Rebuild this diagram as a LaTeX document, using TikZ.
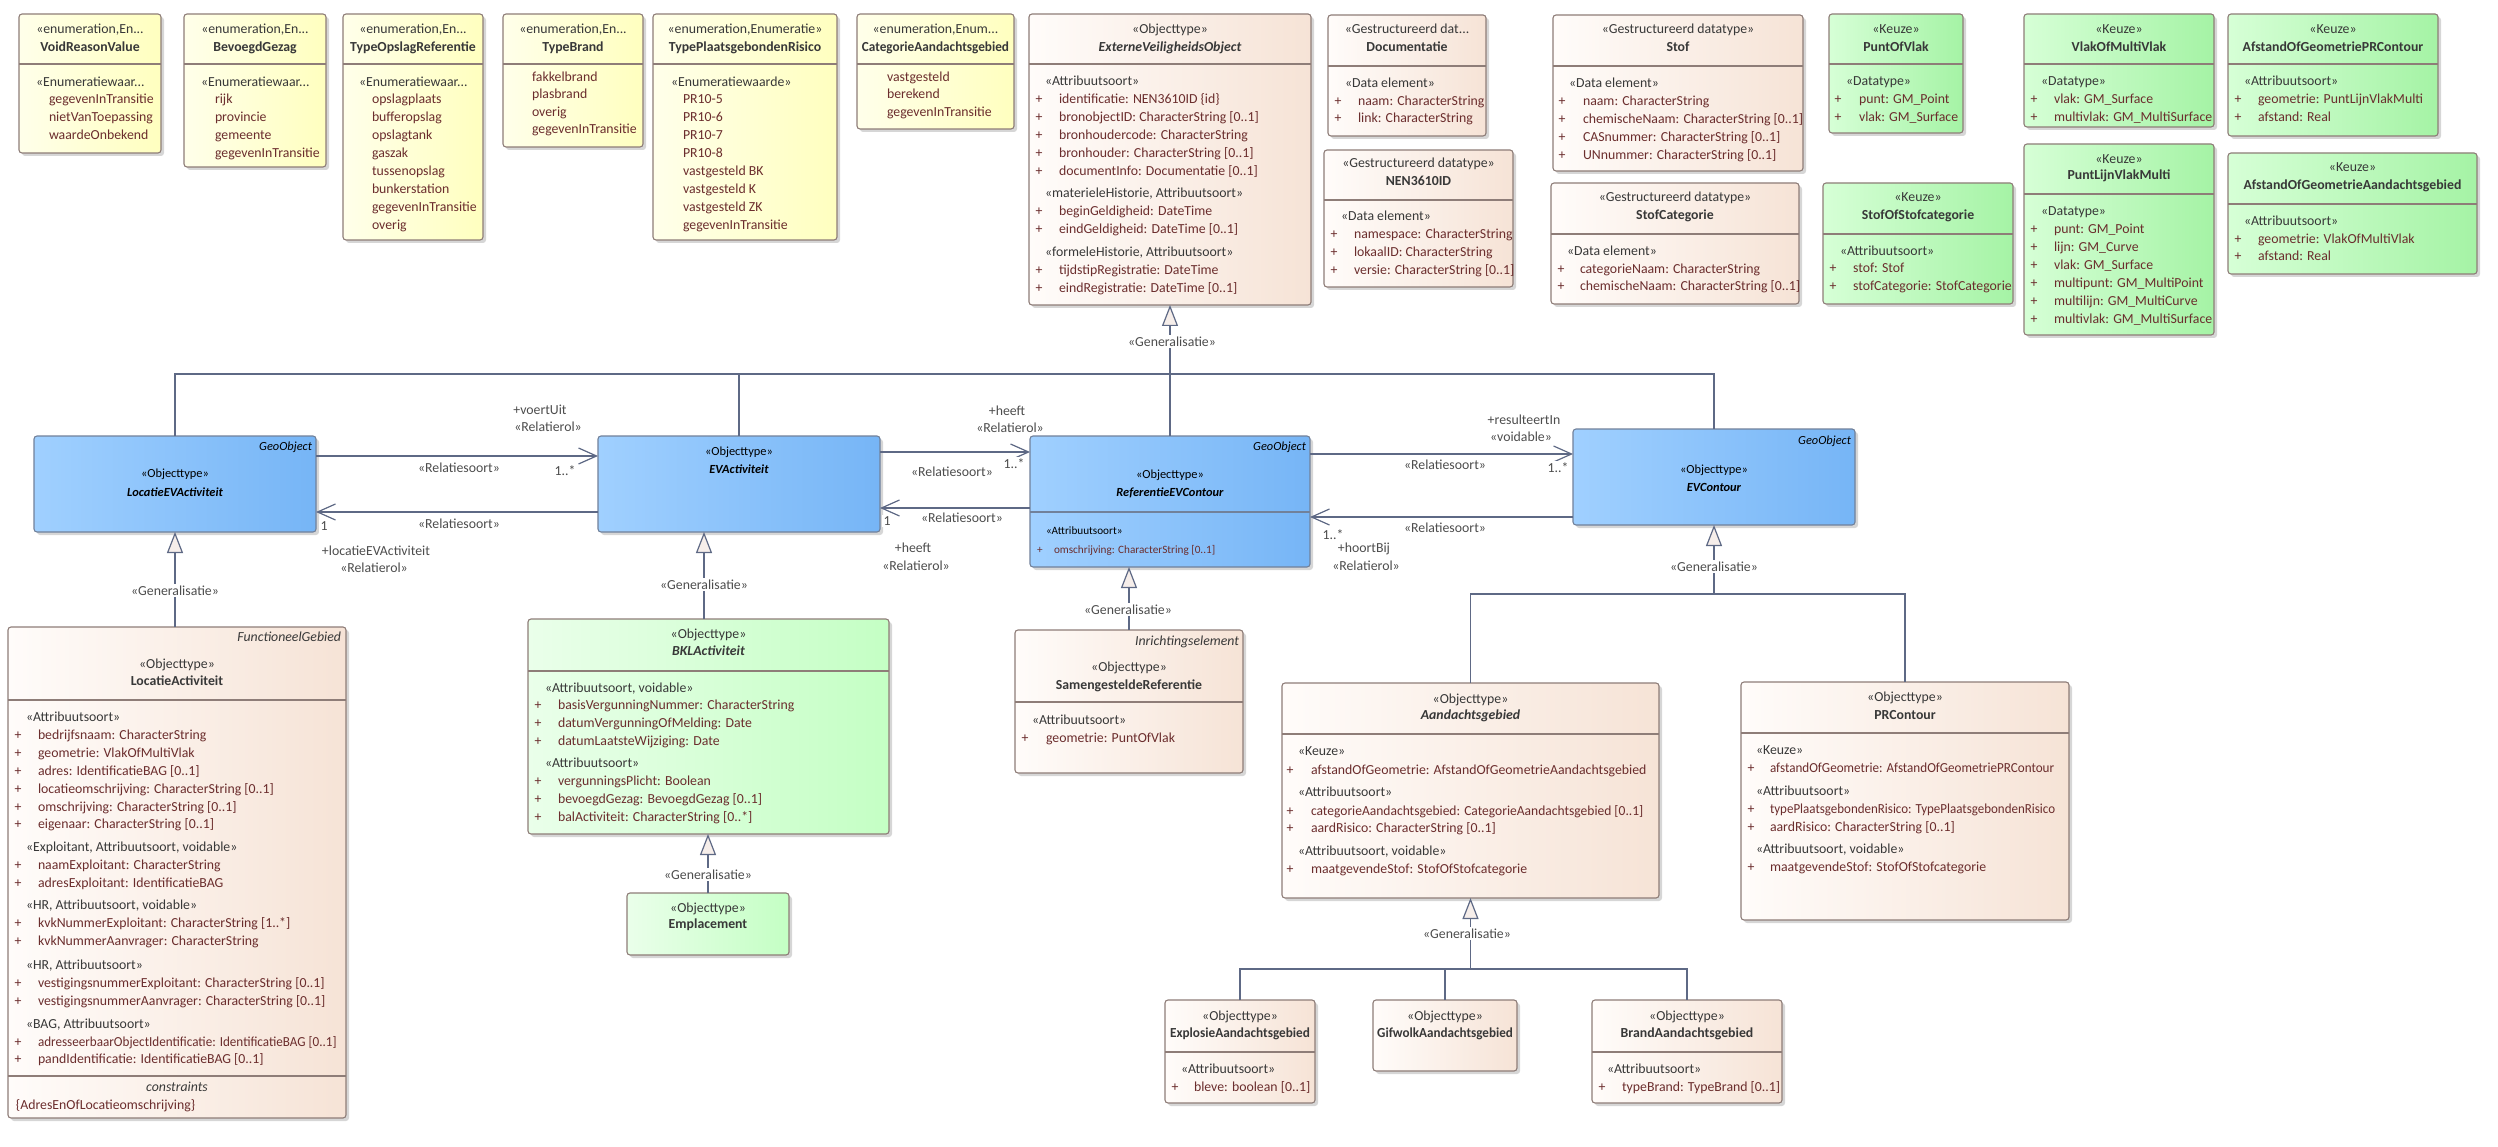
\documentclass[tikz,border=0pt]{standalone}
\usepackage{fontspec}
\setmainfont{Carlito}
\usepackage{graphicx}
\usetikzlibrary{arrows.meta,fit,shadows}
\definecolor{lnk}{HTML}{5E6985}
\definecolor{lab}{HTML}{4D4D4D}
\definecolor{itm}{HTML}{6B2D2D}
\definecolor{hdr}{HTML}{383838}
\definecolor{bord}{HTML}{8E7D78}
\definecolor{bordb}{HTML}{71819A}
\definecolor{yelL}{HTML}{FFFFEA}
\definecolor{yelR}{HTML}{FFFFBF}
\definecolor{pchL}{HTML}{FFFCFA}
\definecolor{pchR}{HTML}{F6E3D6}
\definecolor{bluL}{HTML}{A0D0FF}
\definecolor{bluR}{HTML}{76B5F6}
\definecolor{grnL}{HTML}{D6FFD6}
\definecolor{grnR}{HTML}{A5F3A5}
\definecolor{lgrL}{HTML}{EAFFEA}
\definecolor{lgrR}{HTML}{C4FFC4}
\definecolor{genfill}{HTML}{F6EEEA}
\newcommand\fs{\fontsize{13.8}{16}\selectfont}
\newcommand\fss{\fontsize{12.4}{14}\selectfont}
\newcommand\fsa{\fontsize{11.2}{13}\selectfont}
\newcounter{tn}
\newcommand\T[5]{\stepcounter{tn}\edef\tnm{t\arabic{tn}}\node[txt,#1,anchor=#2] (\tnm) at (#3,#4) {#5};}
\newcommand\stt[3]{\T{}{mid}{#1}{#2}{#3}}
\newcommand\nmb[3]{\T{font=\fs\bfseries}{mid}{#1}{#2}{#3}}
\newcommand\nmbi[3]{\T{font=\fs\bfseries\itshape}{mid}{#1}{#2}{#3}}
\newcommand\cst[2]{\T{}{mid west}{\sx}{#1}{#2}}
\newcommand\ati[2]{\T{itm}{mid}{\px}{#1}{+}\T{itm}{mid west}{\tx}{#1}{#2}}
\newcommand\ev[2]{\T{itm}{mid west}{\tx}{#1}{#2}}
\newcommand\cl[3]{\stepcounter{tn}\edef\tnm{l\arabic{tn}}\node[clab,anchor=mid] (\tnm) at (#1,#2) {#3};}
\newcommand\sepr[2]{\draw[sepl] (#1.west |- 0,#2) -- (#1.east |- 0,#2);}
\newcommand\sq[2]{\scalebox{#1}[1]{#2}}
\tikzset{
 box/.style={draw=bord, line width=1.1pt, rounded corners=3pt, inner sep=0pt, outer sep=0pt,
   drop shadow={shadow xshift=3pt,shadow yshift=-3pt,fill=black,opacity=0.16}},
 enumbox/.style={box,left color=yelL,right color=yelR},
 peach/.style={box,left color=pchL,right color=pchR},
 bluebox/.style={box,draw=bordb,left color=bluL,right color=bluR},
 keuze/.style={box,left color=grnL,right color=grnR},
 lgreen/.style={box,left color=lgrL,right color=lgrR},
 sepl/.style={draw=bord,line width=1.1pt},
 txt/.style={inner sep=0pt,outer sep=0pt,text=hdr,font=\fs},
 itm/.style={text=itm},
 bt/.style={font=\fss,text=black},
 conn/.style={draw=lnk,line width=1.2pt},
 assoc/.style={conn,-{Straight Barb[length=18pt,width=16pt,line width=1.2pt]}},
 gen/.style={conn,-{Triangle[length=21pt,width=16pt,fill=genfill,line width=1.2pt]}},
 clab/.style={inner sep=1.5pt,outer sep=0pt,text=lab,font=\fs,fill=white},
}
\begin{document}
\begin{tikzpicture}[x=1pt,y=-1pt]
\useasboundingbox (0,0) rectangle (2498,1147);
\fill[white] (0,0) rectangle (2498,1147);
% ---------- boxes ----------
\node[enumbox,fit={(19,14) (161,153)}] (VRV) {};
\node[enumbox,fit={(184,14) (326,167)}] (BG) {};
\node[enumbox,fit={(343,14) (483,240)}] (TOR) {};
\node[enumbox,fit={(503,14) (643,147)}] (TB) {};
\node[enumbox,fit={(653,14) (837,240)}] (TPR) {};
\node[enumbox,fit={(857,14) (1014,129)}] (CAT) {};
\node[peach,fit={(1029,14) (1311,305)}] (EVO) {};
\node[peach,fit={(1328,15) (1486,136)}] (DOC) {};
\node[peach,fit={(1324,150) (1513,287)}] (NEN) {};
\node[peach,fit={(1553,15) (1803,171)}] (STOF) {};
\node[peach,fit={(1551,183) (1799,304)}] (SCAT) {};
\node[keuze,fit={(1829,14) (1963,133)}] (POV) {};
\node[keuze,fit={(1823,183) (2013,304)}] (SOS) {};
\node[keuze,fit={(2024,14) (2214,127)}] (VOM) {};
\node[keuze,fit={(2228,14) (2438,136)}] (AGPR) {};
\node[keuze,fit={(2024,144) (2214,335)}] (PLVM) {};
\node[keuze,fit={(2228,153) (2477,274)}] (AGAG) {};
\node[bluebox,fit={(34,436) (316,532)}] (LEVA) {};
\node[bluebox,fit={(598,436) (880,532)}] (EVA) {};
\node[bluebox,fit={(1030,436) (1310,567)}] (REVC) {};
\node[bluebox,fit={(1573,429) (1855,525)}] (EVC) {};
\node[peach,fit={(8,627) (346,1118)}] (LA) {};
\node[lgreen,fit={(528,619) (889,834)}] (BKL) {};
\node[lgreen,fit={(627,893) (789,955)}] (EMP) {};
\node[peach,fit={(1015,630) (1243,773)}] (SR) {};
\node[peach,fit={(1282,683) (1659,898)}] (AG) {};
\node[peach,fit={(1741,682) (2069,920)}] (PRC) {};
\node[peach,fit={(1165,1000) (1315,1103)}] (EXP) {};
\node[peach,fit={(1373,1000) (1517,1071)}] (GIF) {};
\node[peach,fit={(1592,1000) (1782,1103)}] (BRA) {};
% separators
\sepr{VRV}{64}\sepr{BG}{64}\sepr{TOR}{64}\sepr{TB}{64}\sepr{TPR}{64}\sepr{CAT}{64}
\sepr{EVO}{64}\sepr{DOC}{66}\sepr{NEN}{200}\sepr{STOF}{66}\sepr{SCAT}{234}
\sepr{POV}{64}\sepr{SOS}{234}\sepr{VOM}{64}\sepr{AGPR}{64}\sepr{PLVM}{194}\sepr{AGAG}{204}
\draw[sepl,draw=bordb] (REVC.west |- 0,512) -- (REVC.east |- 0,512);
\sepr{LA}{700}\sepr{LA}{1076}\sepr{BKL}{671}\sepr{SR}{702}\sepr{AG}{734}\sepr{PRC}{733}
\sepr{EXP}{1052}\sepr{BRA}{1052}
% ---------- connectors ----------
\draw[conn] (LEVA.north) |- (EVC.north |- 0,374) -- (EVC.north);
\draw[conn] (EVA.north) -- (EVA.north |- 0,374);
\draw[conn] (REVC.north) -- (REVC.north |- 0,374);
\draw[gen] (EVO.south |- 0,374) -- (EVO.south);
\draw[assoc] (LEVA.east |- 0,456) -- (EVA.west |- 0,456);
\draw[assoc] (EVA.west |- 0,512) -- (LEVA.east |- 0,512);
\draw[assoc] (EVA.east |- 0,452) -- (REVC.west |- 0,452);
\draw[assoc] (REVC.west |- 0,508) -- (EVA.east |- 0,508);
\draw[assoc] (REVC.east |- 0,454) -- (EVC.west |- 0,454);
\draw[assoc] (EVC.west |- 0,517) -- (REVC.east |- 0,517);
\draw[gen] (LEVA.south |- LA.north) -- (LEVA.south);
\draw[gen] (BKL.north -| 704,0) -- (EVA.south -| 704,0);
\draw[gen] (EMP.north) -- (BKL.south -| EMP.north);
\draw[gen] (SR.north) -- (REVC.south -| SR.north);
\draw[conn] (AG.north) |- (PRC.north |- 0,594) -- (PRC.north);
\draw[gen] (EVC.south |- 0,594) -- (EVC.south);
\draw[conn] (EXP.north) |- (BRA.north |- 0,969) -- (BRA.north);
\draw[conn] (GIF.north) -- (GIF.north |- 0,969);
\draw[gen] (AG.south |- 0,969) -- (AG.south);
% connector labels
\cl{1172}{344}{«Generalisatie»}
\cl{175}{593}{«Generalisatie»}
\cl{704}{587}{«Generalisatie»}
\cl{708}{877}{«Generalisatie»}
\cl{1128}{612}{«Generalisatie»}
\cl{1714}{569}{«Generalisatie»}
\cl{1467}{936}{«Generalisatie»}
\cl{540}{412}{+voertUit}
\cl{548}{429}{«Relatierol»}
\cl{459}{470}{«Relatiesoort»}
\cl{565}{473}{1..*}
\cl{459}{526}{«Relatiesoort»}
\cl{324}{528}{1}
\cl{376}{553}{+locatieEVActiviteit}
\cl{374}{570}{«Relatierol»}
\cl{1007}{413}{+heeft}
\cl{1010}{430}{«Relatierol»}
\cl{952}{474}{«Relatiesoort»}
\cl{1014}{466}{1..*}
\cl{962}{520}{«Relatiesoort»}
\cl{887}{523}{1}
\cl{913}{550}{+heeft}
\cl{916}{568}{«Relatierol»}
\cl{1524}{422}{+resulteertIn}
\cl{1521}{439}{«voidable»}
\cl{1445}{467}{«Relatiesoort»}
\cl{1558}{470}{1..*}
\cl{1445}{530}{«Relatiesoort»}
\cl{1333}{537}{1..*}
\cl{1364}{550}{+hoortBij}
\cl{1366}{568}{«Relatierol»}
% ---------- texts: enumerations ----------
\stt{90}{31}{«enumeration,En...}\nmb{90}{49}{VoidReasonValue}
\def\sx{36}\def\tx{49}
\cst{84}{«Enumeratiewaar...}
\ev{101}{gegevenInTransitie}\ev{119}{nietVanToepassing}\ev{137}{waardeOnbekend}
\stt{255}{31}{«enumeration,En...}\nmb{255}{49}{BevoegdGezag}
\def\sx{201}\def\tx{215}
\cst{84}{«Enumeratiewaar...}
\ev{101}{rijk}\ev{119}{provincie}\ev{137}{gemeente}\ev{155}{gegevenInTransitie}
\stt{413}{31}{«enumeration,En...}\nmb{413}{49}{TypeOpslagReferentie}
\def\sx{359}\def\tx{372}
\cst{84}{«Enumeratiewaar...}
\ev{101}{opslagplaats}\ev{119}{bufferopslag}\ev{137}{opslagtank}\ev{155}{gaszak}
\ev{173}{tussenopslag}\ev{191}{bunkerstation}\ev{209}{gegevenInTransitie}\ev{227}{overig}
\stt{573}{31}{«enumeration,En...}\nmb{573}{49}{TypeBrand}
\def\tx{532}
\ev{79}{fakkelbrand}\ev{96}{plasbrand}\ev{114}{overig}\ev{131}{gegevenInTransitie}
\stt{745}{31}{«enumeration,Enumeratie»}\nmb{745}{49}{TypePlaatsgebondenRisico}
\def\sx{671}\def\tx{683}
\cst{84}{«Enumeratiewaarde»}
\ev{101}{PR10-5}\ev{119}{PR10-6}\ev{137}{PR10-7}\ev{155}{PR10-8}
\ev{173}{vastgesteld BK}\ev{191}{vastgesteld K}\ev{209}{vastgesteld ZK}\ev{227}{gegevenInTransitie}
\stt{935.5}{31}{«enumeration,Enum...}\nmb{935.5}{49}{\sq{0.96}{CategorieAandachtsgebied}}
\def\tx{887}
\ev{79}{vastgesteld}\ev{96}{berekend}\ev{114}{gegevenInTransitie}
% ---------- ExterneVeiligheidsObject ----------
\stt{1170}{31}{«Objecttype»}\nmbi{1170}{49}{ExterneVeiligheidsObject}
\def\sx{1045}\def\px{1039}\def\tx{1059}
\cst{83}{«Attribuutsoort»}
\ati{101}{identificatie: NEN3610ID \{id\}}
\ati{119}{bronobjectID: CharacterString [0..1]}
\ati{137}{bronhoudercode: CharacterString}
\ati{155}{bronhouder: CharacterString [0..1]}
\ati{173}{documentInfo: Documentatie [0..1]}
\cst{195}{«materieleHistorie, Attribuutsoort»}
\ati{213}{beginGeldigheid: DateTime}
\ati{231}{eindGeldigheid: DateTime [0..1]}
\cst{254}{«formeleHistorie, Attribuutsoort»}
\ati{272}{tijdstipRegistratie: DateTime}
\ati{290}{eindRegistratie: DateTime [0..1]}
% Documentatie
\stt{1407}{31}{«Gestructureerd dat...}\nmb{1407}{49}{Documentatie}
\def\sx{1345}\def\px{1338}\def\tx{1358}
\cst{85}{«Data element»}
\ati{103}{naam: CharacterString}\ati{120}{link: CharacterString}
% NEN3610ID
\stt{1418.5}{165}{«Gestructureerd datatype»}\nmb{1418.5}{183}{NEN3610ID}
\def\sx{1341}\def\px{1334}\def\tx{1354}
\cst{218}{«Data element»}
\ati{236}{namespace: CharacterString}\ati{254}{lokaalID: CharacterString}\ati{272}{versie: CharacterString [0..1]}
% Stof
\stt{1678}{31}{«Gestructureerd datatype»}\nmb{1678}{49}{Stof}
\def\sx{1569}\def\px{1562}\def\tx{1583}
\cst{85}{«Data element»}
\ati{103}{naam: CharacterString}
\ati{121}{chemischeNaam: CharacterString [0..1]}
\ati{139}{CASnummer: CharacterString [0..1]}
\ati{157}{UNnummer: CharacterString [0..1]}
% StofCategorie
\stt{1675}{199}{«Gestructureerd datatype»}\nmb{1675}{217}{StofCategorie}
\def\sx{1567}\def\px{1561}\def\tx{1580}
\cst{253}{«Data element»}
\ati{271}{categorieNaam: CharacterString}
\ati{288}{chemischeNaam: CharacterString [0..1]}
% PuntOfVlak
\stt{1896}{31}{«Keuze»}\nmb{1896}{49}{PuntOfVlak}
\def\sx{1846}\def\px{1838}\def\tx{1859}
\cst{83}{«Datatype»}
\ati{101}{punt: GM\_Point}\ati{119}{vlak: GM\_Surface}
% StofOfStofcategorie
\stt{1918}{199}{«Keuze»}\nmb{1918}{217}{StofOfStofcategorie}
\def\sx{1840}\def\px{1833}\def\tx{1853}
\cst{253}{«Attribuutsoort»}
\ati{270}{stof: Stof}\ati{288}{stofCategorie: StofCategorie}
% VlakOfMultiVlak
\stt{2119}{31}{«Keuze»}\nmb{2119}{49}{VlakOfMultiVlak}
\def\sx{2041}\def\px{2034}\def\tx{2054}
\cst{83}{«Datatype»}
\ati{101}{vlak: GM\_Surface}\ati{119}{multivlak: GM\_MultiSurface}
% PuntLijnVlakMulti
\stt{2119}{161}{«Keuze»}\nmb{2119}{177}{PuntLijnVlakMulti}
\cst{213}{«Datatype»}
\ati{231}{punt: GM\_Point}\ati{249}{lijn: GM\_Curve}\ati{267}{vlak: GM\_Surface}
\ati{285}{multipunt: GM\_MultiPoint}\ati{303}{multilijn: GM\_MultiCurve}\ati{321}{multivlak: GM\_MultiSurface}
% AfstandOfGeometriePRContour
\stt{2333}{31}{«Keuze»}\nmb{2333}{49}{AfstandOfGeometriePRContour}
\def\sx{2244}\def\px{2238}\def\tx{2258}
\cst{83}{«Attribuutsoort»}
\ati{101}{geometrie: PuntLijnVlakMulti}\ati{119}{afstand: Real}
% AfstandOfGeometrieAandachtsgebied
\stt{2352.5}{169}{«Keuze»}\nmb{2352.5}{187}{AfstandOfGeometrieAandachtsgebied}
\cst{223}{«Attribuutsoort»}
\ati{241}{geometrie: VlakOfMultiVlak}\ati{258}{afstand: Real}
% ---------- blue boxes ----------
\T{bt,font=\fss\itshape}{mid east}{312}{448}{GeoObject}
\T{bt}{mid}{175}{475}{«Objecttype»}
\T{bt,font=\fss\bfseries\itshape}{mid}{175}{494}{LocatieEVActiviteit}
\T{bt}{mid}{739}{453}{«Objecttype»}
\T{bt,font=\fss\bfseries\itshape}{mid}{739}{471}{EVActiviteit}
\T{bt,font=\fss\itshape}{mid east}{1306}{448}{GeoObject}
\T{bt}{mid}{1170}{476}{«Objecttype»}
\T{bt,font=\fss\bfseries\itshape}{mid}{1170}{494}{ReferentieEVContour}
\T{bt,font=\fsa}{mid west}{1046}{532}{«Attribuutsoort»}
\T{bt,font=\fsa,text=itm}{mid}{1040}{551}{+}
\T{bt,font=\fsa,text=itm}{mid west}{1054}{551}{omschrijving: CharacterString [0..1]}
\T{bt,font=\fss\itshape}{mid east}{1851}{442}{GeoObject}
\T{bt}{mid}{1714}{471}{«Objecttype»}
\T{bt,font=\fss\bfseries\itshape}{mid}{1714}{489}{EVContour}
% ---------- LocatieActiviteit ----------
\T{font=\fs\itshape}{mid east}{341}{639}{FunctioneelGebied}
\stt{177}{666}{«Objecttype»}\nmb{177}{683}{LocatieActiviteit}
\def\sx{26}\def\px{18}\def\tx{38}
\cst{719}{«Attribuutsoort»}
\ati{737}{bedrijfsnaam: CharacterString}
\ati{755}{geometrie: VlakOfMultiVlak}
\ati{773}{adres: IdentificatieBAG [0..1]}
\ati{791}{locatieomschrijving: CharacterString [0..1]}
\ati{809}{omschrijving: CharacterString [0..1]}
\ati{826}{eigenaar: CharacterString [0..1]}
\cst{849}{«Exploitant, Attribuutsoort, voidable»}
\ati{867}{naamExploitant: CharacterString}
\ati{885}{adresExploitant: IdentificatieBAG}
\cst{907}{«HR, Attribuutsoort, voidable»}
\ati{925}{kvkNummerExploitant: CharacterString [1..*]}
\ati{943}{kvkNummerAanvrager: CharacterString}
\cst{967}{«HR, Attribuutsoort»}
\ati{985}{vestigingsnummerExploitant: CharacterString [0..1]}
\ati{1003}{vestigingsnummerAanvrager: CharacterString [0..1]}
\cst{1026}{«BAG, Attribuutsoort»}
\ati{1044}{\sq{0.95}{adresseerbaarObjectIdentificatie: IdentificatieBAG [0..1]}}
\ati{1061}{pandIdentificatie: IdentificatieBAG [0..1]}
\T{font=\fs\itshape}{mid}{177}{1089}{constraints}
\T{itm}{mid west}{16}{1107}{\{AdresEnOfLocatieomschrijving\}}
% ---------- BKLActiviteit ----------
\stt{708.5}{636}{«Objecttype»}\nmbi{708.5}{653}{BKLActiviteit}
\def\sx{545}\def\px{538}\def\tx{558}
\cst{690}{«Attribuutsoort, voidable»}
\ati{707}{basisVergunningNummer: CharacterString}
\ati{725}{datumVergunningOfMelding: Date}
\ati{743}{datumLaatsteWijziging: Date}
\cst{765}{«Attribuutsoort»}
\ati{783}{vergunningsPlicht: Boolean}
\ati{801}{bevoegdGezag: BevoegdGezag [0..1]}
\ati{819}{balActiviteit: CharacterString [0..*]}
\stt{708}{910}{«Objecttype»}\nmb{708}{926}{Emplacement}
% ---------- SamengesteldeReferentie ----------
\T{font=\fs\itshape}{mid east}{1239}{643}{Inrichtingselement}
\stt{1129}{669}{«Objecttype»}\nmb{1129}{687}{SamengesteldeReferentie}
\def\sx{1032}\def\px{1025}\def\tx{1046}
\cst{722}{«Attribuutsoort»}
\ati{740}{geometrie: PuntOfVlak}
% ---------- Aandachtsgebied ----------
\stt{1470.5}{701}{«Objecttype»}\nmbi{1470.5}{717}{Aandachtsgebied}
\def\sx{1298}\def\px{1290}\def\tx{1311}
\cst{753}{«Keuze»}
\ati{772}{afstandOfGeometrie: AfstandOfGeometrieAandachtsgebied}
\cst{794}{«Attribuutsoort»}
\ati{813}{\sq{0.98}{categorieAandachtsgebied: CategorieAandachtsgebied [0..1]}}
\ati{830}{aardRisico: CharacterString [0..1]}
\cst{853}{«Attribuutsoort, voidable»}
\ati{871}{maatgevendeStof: StofOfStofcategorie}
% ---------- PRContour ----------
\stt{1905}{699}{«Objecttype»}\nmb{1905}{717}{PRContour}
\def\sx{1756}\def\px{1751}\def\tx{1770}
\cst{752}{«Keuze»}
\ati{770}{\sq{0.95}{afstandOfGeometrie: AfstandOfGeometriePRContour}}
\cst{793}{«Attribuutsoort»}
\ati{811}{\sq{0.94}{typePlaatsgebondenRisico: TypePlaatsgebondenRisico}}
\ati{829}{aardRisico: CharacterString [0..1]}
\cst{851}{«Attribuutsoort, voidable»}
\ati{869}{maatgevendeStof: StofOfStofcategorie}
% ---------- bottom ----------
\stt{1240}{1018}{«Objecttype»}\nmb{1240}{1035}{\sq{0.96}{ExplosieAandachtsgebied}}
\def\sx{1181}\def\px{1175}\def\tx{1194}
\cst{1071}{«Attribuutsoort»}
\ati{1089}{bleve: boolean [0..1]}
\stt{1445}{1018}{«Objecttype»}\nmb{1445}{1035}{\sq{0.95}{GifwolkAandachtsgebied}}
\stt{1687}{1018}{«Objecttype»}\nmb{1687}{1035}{BrandAandachtsgebied}
\def\sx{1607}\def\px{1602}\def\tx{1622}
\cst{1071}{«Attribuutsoort»}
\ati{1089}{typeBrand: TypeBrand [0..1]}
\end{tikzpicture}
\end{document}
